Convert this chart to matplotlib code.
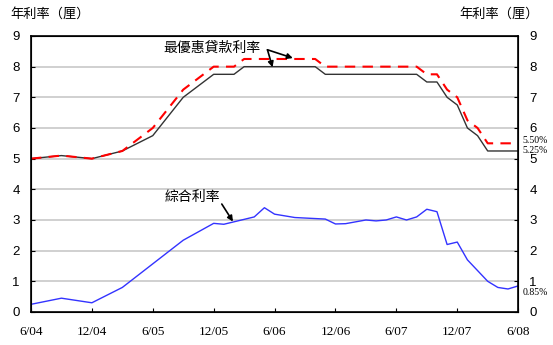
import numpy as np
import matplotlib.pyplot as plt

plt.rcParams['font.family'] = ['Noto Sans CJK TC', 'DejaVu Sans']

# months counted from 6/04
prime_m = [0, 3, 6, 9, 12, 15, 18, 20, 21, 28, 29, 38, 39, 40, 41, 42, 43, 44, 45, 48]
prime_hi = [5.0, 5.1, 5.0, 5.25, 6.0, 7.25, 8.0, 8.0, 8.25, 8.25, 8.0, 8.0, 7.75, 7.75,
            7.25, 7.0, 6.25, 6.0, 5.5, 5.5]
prime_lo = [5.0, 5.1, 5.0, 5.25, 5.75, 7.0, 7.75, 7.75, 8.0, 8.0, 7.75, 7.75, 7.5, 7.5,
            7.0, 6.75, 6.0, 5.75, 5.25, 5.25]

blr_m = [0, 3, 6, 9, 12, 15, 18, 19, 20, 22, 23, 24, 26, 29, 30, 31, 33, 34, 35, 36,
         37, 38, 39, 40, 41, 42, 43, 44, 45, 46, 47, 48]
blr = [0.25, 0.45, 0.3, 0.8, 1.57, 2.34, 2.89, 2.86, 2.94, 3.1, 3.4, 3.19, 3.08, 3.03,
       2.87, 2.88, 3.0, 2.97, 3.0, 3.1, 3.0, 3.1, 3.35, 3.27, 2.2, 2.28, 1.7, 1.35,
       1.0, 0.8, 0.75, 0.85]

xticks = [0, 6, 12, 18, 24, 30, 36, 42, 48]
xlabels = ['6/04', '12/04', '6/05', '12/05', '6/06', '12/06', '6/07', '12/07', '6/08']

fig = plt.figure(figsize=(5.53, 3.45), dpi=100)
ax = fig.add_axes([0.056, 0.0957, 0.881, 0.8])

for v in range(1, 9):
    ax.axhline(v, color='#c8c8c8', lw=1.2, zorder=0)

ax.plot(prime_m, prime_lo, color='#333333', lw=1.0)
ax.plot(prime_m, prime_hi, color='red', lw=1.5, dashes=(5, 3.5))
ax.plot(blr_m, blr, color='#3333ff', lw=1.0)

ax.set_xlim(0, 48)
ax.set_ylim(0, 9)
ax.set_xticks(xticks)
ax.set_xticklabels(xlabels, family='Liberation Serif', fontsize=9.5)
ax.set_yticks(range(10))
ax.tick_params(axis='both', direction='in', length=3, labelsize=9.5)
ax.tick_params(axis='x', pad=10)
ax.tick_params(axis='y', pad=8)
for lb in ax.get_yticklabels():
    lb.set_family('Liberation Sans')

ax2 = ax.twinx()
ax2.set_ylim(0, 9)
ax2.set_yticks(range(10))
ax2.tick_params(axis='y', direction='in', length=3, labelsize=9.5, pad=8)
for lb in ax2.get_yticklabels():
    lb.set_family('Liberation Sans')

for sp in ax.spines.values():
    sp.set_linewidth(1.2)

# small value tags on the right
ax.text(48.4, 5.6, '5.50%', fontsize=7, family='Liberation Serif', va='center', clip_on=False)
ax.text(48.4, 5.28, '5.25%', fontsize=7, family='Liberation Serif', va='center', clip_on=False)
ax.text(48.4, 0.65, '0.85%', fontsize=7, family='Liberation Serif', va='center', clip_on=False)

# annotations
arr = dict(arrowstyle='-|>', color='black', lw=1.2, mutation_scale=8, shrinkA=0, shrinkB=0)
ax.text(17.8, 8.62, '最優惠貸款利率', fontsize=10, ha='center', va='center')
ax.annotate('', xy=(23.8, 7.98), xytext=(23.3, 8.55), arrowprops=arr)
ax.annotate('', xy=(25.8, 8.28), xytext=(23.3, 8.55), arrowprops=arr)
ax.text(15.9, 3.75, '綜合利率', fontsize=10, ha='center', va='center')
ax.annotate('', xy=(19.9, 2.95), xytext=(18.8, 3.52), arrowprops=arr)

fig.text(0.018, 0.96, '年利率（厘）', fontsize=9.5, va='center')
fig.text(0.975, 0.96, '年利率（厘）', fontsize=9.5, va='center', ha='right')

fig.savefig('out.png', dpi=100)
